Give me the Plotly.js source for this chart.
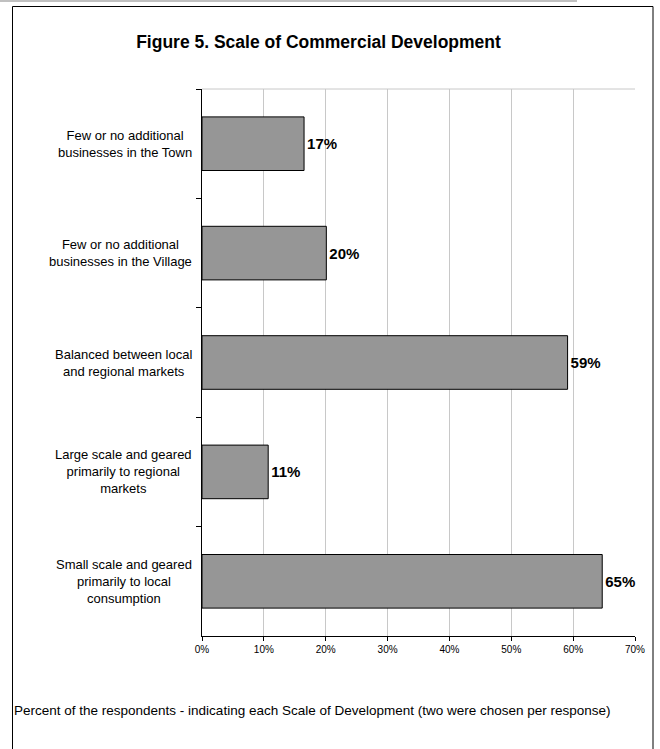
<!DOCTYPE html>
<html>
<head>
<meta charset="utf-8">
<script src="https://cdn.plot.ly/plotly-3.0.1.min.js"></script>
<style>
html,body{margin:0;padding:0;background:#fff;}
#chart{width:660px;height:749px;}
</style>
</head>
<body>
<div id="chart"></div>
<script>
// ---- data ----
const categories = [
  "Few or no additional<br>businesses in the Town",
  "Few or no additional<br>businesses in the Village",
  "Balanced between local<br>and regional markets",
  "Large scale and geared<br>primarily to regional<br>markets",
  "Small scale and geared<br>primarily to local<br>consumption"
];
const values = [16.5, 20.1, 59.1, 10.7, 64.7];
const valueLabels = ["17%", "20%", "59%", "11%", "65%"];
const xTickVals = [0, 10, 20, 30, 40, 50, 60, 70];
const xTickText = ["0%", "10%", "20%", "30%", "40%", "50%", "60%", "70%"];
const titleText = "Figure 5. Scale of Commercial Development";
const footText = "Percent of the respondents - indicating each Scale of Development (two were chosen per response)";

// ---- layout geometry (pixels) ----
const W = 660, H = 749;
const L = 202, R = 635, T = 89, B = 636;
const pw = R - L, ph = B - T;
const px = x => (x - L) / pw;
const py = y => (B - y) / ph;
const FONT = "Arial, 'Liberation Sans', sans-serif";

const trace = {
  type: "bar",
  orientation: "h",
  y: categories,
  x: values,
  text: valueLabels,
  textposition: "outside",
  constraintext: "none",
  cliponaxis: false,
  textfont: {family: FONT, size: 15, color: "#000", weight: "bold"},
  marker: {color: "#969696", line: {color: "#000", width: 1}},
  hoverinfo: "skip"
};

const annotations = categories.map(c => ({
  xref: "paper", yref: "y", x: 0, y: c,
  xanchor: "right", yanchor: "middle", xshift: -8,
  align: "center", showarrow: false,
  text: c, font: {family: FONT, size: 13, color: "#000"}
}));
annotations.push({
  xref: "paper", yref: "paper", x: px(12), y: py(710),
  xanchor: "left", yanchor: "middle", showarrow: false,
  text: footText, font: {family: FONT, size: 13.5, color: "#000"}
});

const layout = {
  width: W, height: H,
  margin: {l: L, r: W - R, t: T, b: H - B, pad: 0},
  paper_bgcolor: "#fff", plot_bgcolor: "#fff",
  showlegend: false,
  bargap: 0.51,
  title: {
    text: "<b>" + titleText + "</b>",
    font: {family: FONT, size: 17.5, color: "#000"},
    xref: "container", yref: "container",
    x: 318.5 / W, y: 1 - 42 / H, xanchor: "center", yanchor: "middle"
  },
  xaxis: {
    range: [0, 70], tickvals: xTickVals, ticktext: xTickText,
    showgrid: true, gridcolor: "#c8c8c8", gridwidth: 1,
    zeroline: false, showline: true, linecolor: "#000", linewidth: 1,
    ticks: "outside", ticklen: 4, tickcolor: "#000",
    tickfont: {family: FONT, size: 10, color: "#000"},
    fixedrange: true
  },
  yaxis: {
    type: "category", autorange: "reversed",
    showticklabels: false, showgrid: false, zeroline: false,
    showline: true, linecolor: "#000", linewidth: 1,
    ticks: "outside", tickson: "boundaries", ticklen: 5, tickcolor: "#000",
    fixedrange: true
  },
  annotations: annotations,
  shapes: [
    // plot area top border (gray)
    {type: "line", xref: "paper", yref: "paper", x0: 0, x1: 1, y0: 1, y1: 1,
     line: {color: "#c8c8c8", width: 1}, layer: "below"},
    // outer frame
    {type: "rect", xref: "paper", yref: "paper",
     x0: px(12.5), x1: px(653), y0: py(6.5), y1: py(760),
     line: {color: "#000", width: 1}, fillcolor: "rgba(0,0,0,0)"},
    // gray page rule at top
    {type: "line", xref: "paper", yref: "paper",
     x0: px(0), x1: px(577), y0: py(1), y1: py(1),
     line: {color: "#c0c0c0", width: 2}}
  ]
};

Plotly.newPlot("chart", [trace], layout, {displayModeBar: false, staticPlot: true});
</script>
</body>
</html>
